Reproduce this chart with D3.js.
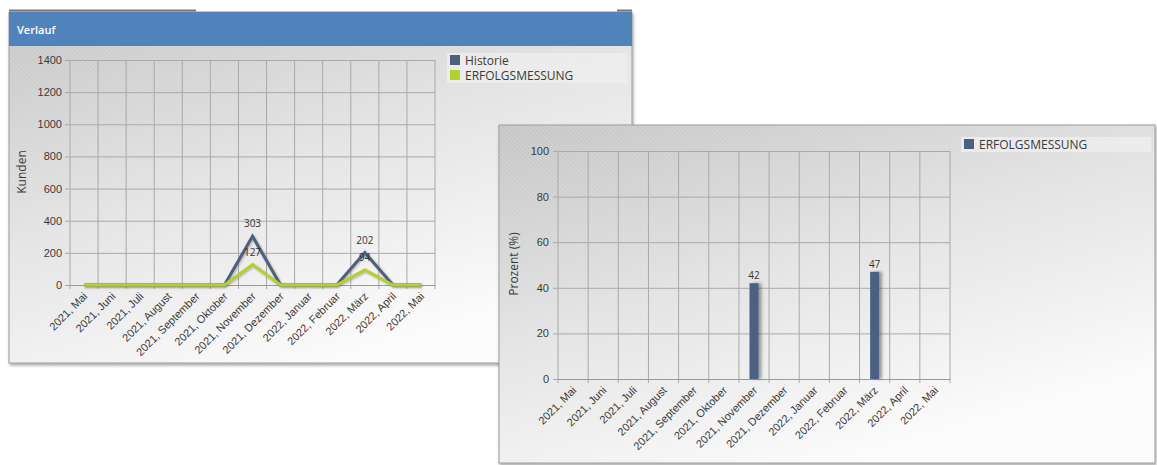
<!DOCTYPE html>
<html>
<head>
<meta charset="utf-8">
<script src="https://cdn.jsdelivr.net/npm/d3@7"></script>
<style>
  body { margin: 0; background: #fff; }
  svg { display: block; font-family: "Open Sans", sans-serif; }
</style>
</head>
<body>
<script>
// data
var months = ["2021, Mai", "2021, Juni", "2021, Juli", "2021, August", "2021, September",
	"2021, Oktober", "2021, November", "2021, Dezember", "2022, Januar", "2022, Februar",
	"2022, März", "2022, April", "2022, Mai"];
var historie = [0, 0, 0, 0, 0, 0, 303, 0, 0, 0, 202, 0, 0];
var erfolgKunden = [0, 0, 0, 0, 0, 0, 127, 0, 0, 0, 94, 0, 0];
var erfolgProzent = [0, 0, 0, 0, 0, 0, 42, 0, 0, 0, 47, 0, 0];
var kundenTicks = [0, 200, 400, 600, 800, 1000, 1200, 1400];
var prozentTicks = [0, 20, 40, 60, 80, 100];
var legendLeft = ["Historie", "ERFOLGSMESSUNG"];
var legendRight = ["ERFOLGSMESSUNG"];

var slate = "#4f5f7e",
	green = "#b3d12c",
	barColor = "#4b6083",
	gridColor = "#a9a9a9",
	textColor = "#3a3a3a";

var svg = d3.select("body").append("svg")
	.attr("width", 1157)
	.attr("height", 465);

var defs = svg.append("defs");

// background gradient + hatching
var bg = defs.append("linearGradient").attr("id", "bgGrad")
	.attr("x1", 0).attr("y1", 0).attr("x2", 0.55).attr("y2", 1);
bg.append("stop").attr("offset", "0%").attr("stop-color", "#c4c4c4");
bg.append("stop").attr("offset", "50%").attr("stop-color", "#e4e4e4");
bg.append("stop").attr("offset", "100%").attr("stop-color", "#fcfcfc");

var fade = defs.append("linearGradient").attr("id", "fadeGrad")
	.attr("x1", 0).attr("y1", 0).attr("x2", 0.55).attr("y2", 1);
fade.append("stop").attr("offset", "0%").attr("stop-color", "#fff").attr("stop-opacity", 1);
fade.append("stop").attr("offset", "70%").attr("stop-color", "#fff").attr("stop-opacity", 0.1);
fade.append("stop").attr("offset", "100%").attr("stop-color", "#fff").attr("stop-opacity", 0);

defs.append("mask").attr("id", "fadeMask")
	.attr("maskContentUnits", "objectBoundingBox")
	.append("rect").attr("width", 1).attr("height", 1).attr("fill", "url(#fadeGrad)");

var hatch = defs.append("pattern").attr("id", "hatch")
	.attr("width", 3).attr("height", 3)
	.attr("patternUnits", "userSpaceOnUse")
	.attr("patternTransform", "rotate(-45)");
hatch.append("line").attr("x1", 0).attr("y1", 0).attr("x2", 0).attr("y2", 3)
	.attr("stroke", "#fff").attr("stroke-width", 1).attr("stroke-opacity", 0.45);

var sh = defs.append("filter").attr("id", "panelShadow")
	.attr("x", "-5%").attr("y", "-5%").attr("width", "110%").attr("height", "115%");
sh.append("feDropShadow").attr("dx", 1).attr("dy", 2).attr("stdDeviation", 1.5)
	.attr("flood-color", "#000").attr("flood-opacity", 0.35);

var lineSh = defs.append("filter").attr("id", "lineShadow")
	.attr("x", "-10%").attr("y", "-30%").attr("width", "120%").attr("height", "160%");
lineSh.append("feDropShadow").attr("dx", 1).attr("dy", 1).attr("stdDeviation", 1)
	.attr("flood-color", "#666").attr("flood-opacity", 0.5);

var barSh = defs.append("filter").attr("id", "barShadow")
	.attr("x", "-50%").attr("y", "-10%").attr("width", "250%").attr("height", "120%");
barSh.append("feDropShadow").attr("dx", 3).attr("dy", 0).attr("stdDeviation", 1.5)
	.attr("flood-color", "#333").attr("flood-opacity", 0.45);

function panelBg(g, x, y, w, h) {
	g.append("rect").attr("x", x).attr("y", y).attr("width", w).attr("height", h)
		.attr("fill", "url(#bgGrad)").attr("stroke", "#9a9a9a")
		.attr("filter", "url(#panelShadow)");
	g.append("rect").attr("x", x).attr("y", y).attr("width", w).attr("height", h)
		.attr("fill", "url(#hatch)").attr("mask", "url(#fadeMask)");
}

function grid(g, x, y, ticks, labelX) {
	var left = x.range()[0], right = x.range()[1];
	var xs = months.map(function(m) { return x(m); }).concat([right]);

	var yAxis = d3.axisLeft(y).tickValues(ticks).tickFormat(d3.format("d"))
		.tickSize(right - left + 5).tickPadding(4);
	var ga = g.append("g").attr("transform", "translate(" + right + ",0)").call(yAxis);
	ga.select(".domain").remove();
	ga.selectAll(".tick line").attr("stroke", gridColor);
	ga.selectAll(".tick text").attr("fill", textColor).style("font-size", "11px")
		.attr("x", labelX - right);

	g.append("g").selectAll("line").data(xs).join("line")
		.attr("x1", function(d) { return d; }).attr("x2", function(d) { return d; })
		.attr("y1", y.range()[1]).attr("y2", y.range()[0] + 4)
		.attr("stroke", gridColor);

	var xAxis = d3.axisBottom(x).tickSize(0).tickPadding(0);
	var gx = g.append("g").attr("transform", "translate(0," + y.range()[0] + ")").call(xAxis);
	gx.select(".domain").attr("stroke", "#999");
	gx.selectAll(".tick text")
		.attr("fill", textColor).style("font-size", "11px")
		.attr("text-anchor", "end")
		.attr("y", 0).attr("dy", 0)
		.attr("transform", "translate(4,12) rotate(-45)");
}

function legend(g, x, y, w, items, colors) {
	g.append("rect").attr("x", x).attr("y", y).attr("width", w).attr("height", items.length * 15)
		.attr("fill", "#ededed").attr("fill-opacity", 0.85);
	var it = g.selectAll(".lg").data(items).join("g")
		.attr("transform", function(d, i) { return "translate(" + (x + 3) + "," + (y + 2 + i * 15) + ")"; });
	it.append("rect").attr("width", 10).attr("height", 10)
		.attr("fill", function(d, i) { return colors[i]; });
	it.append("text").attr("x", 15).attr("y", 10)
		.attr("fill", textColor).style("font-size", "12px").text(function(d) { return d; });
}

// ---------- left panel: Verlauf ----------
var left = svg.append("g");
panelBg(left, 9, 12, 623, 351);
left.append("rect").attr("x", 9).attr("y", 12).attr("width", 623).attr("height", 34).attr("fill", "#5183bb");
left.append("line").attr("x1", 9).attr("x2", 196).attr("y1", 10.5).attr("y2", 10.5)
	.attr("stroke", "#777").attr("stroke-width", 2);
left.append("line").attr("x1", 617).attr("x2", 632).attr("y1", 10.5).attr("y2", 10.5)
	.attr("stroke", "#777").attr("stroke-width", 2);
left.append("text").attr("x", 17).attr("y", 34)
	.attr("fill", "#fff").style("font-size", "11px").style("font-weight", 600)
	.text("Verlauf");

var xL = d3.scaleBand().domain(months).range([70, 435]).paddingInner(0).paddingOuter(0);
var yL = d3.scaleLinear().domain([0, 1400]).range([285, 60]);
grid(left, xL, yL, kundenTicks, 62);

left.append("text")
	.attr("transform", "translate(26,172) rotate(-90)")
	.attr("text-anchor", "middle").attr("fill", textColor).style("font-size", "12px")
	.text("Kunden");

var lineL = function(vals) {
	return d3.line()
		.x(function(d, i) { return xL(months[i]) + xL.bandwidth() / 2; })
		.y(function(d) { return yL(d); })(vals);
};
left.append("path").attr("d", lineL(historie)).attr("fill", "none")
	.attr("stroke", slate).attr("stroke-width", 3).attr("stroke-linejoin", "miter")
	.attr("filter", "url(#lineShadow)");
left.append("path").attr("d", lineL(erfolgKunden)).attr("fill", "none")
	.attr("stroke", green).attr("stroke-width", 3).attr("stroke-linejoin", "miter")
	.attr("filter", "url(#lineShadow)");

[historie, erfolgKunden].forEach(function(series) {
	left.append("g").selectAll("text").data(series.map(function(v, i) { return { v: v, m: months[i] }; })
		.filter(function(d) { return d.v > 0; }))
		.join("text")
		.attr("x", function(d) { return xL(d.m) + xL.bandwidth() / 2; })
		.attr("y", function(d) { return yL(d.v) - 9; })
		.attr("text-anchor", "middle").attr("fill", "#333").style("font-size", "10px")
		.text(function(d) { return d.v; });
});

legend(left, 447, 53, 181, legendLeft, [slate, green]);

// ---------- right panel: Prozent ----------
var right = svg.append("g");
panelBg(right, 499, 125, 656, 338);

var xR = d3.scaleBand().domain(months).range([558, 950]).paddingInner(0).paddingOuter(0);
var yR = d3.scaleLinear().domain([0, 100]).range([379, 151]);
grid(right, xR, yR, prozentTicks, 549);

right.append("text")
	.attr("transform", "translate(518,264) rotate(-90)")
	.attr("text-anchor", "middle").attr("fill", textColor).style("font-size", "12px")
	.text("Prozent (%)");

var barW = 9;
var barData = erfolgProzent.map(function(v, i) { return { v: v, m: months[i] }; });
right.append("g").selectAll("rect").data(barData).join("rect")
	.attr("x", function(d) { return xR(d.m) + xR.bandwidth() / 2 - barW / 2; })
	.attr("y", function(d) { return yR(d.v); })
	.attr("width", barW)
	.attr("height", function(d) { return yR(0) - yR(d.v); })
	.attr("fill", barColor)
	.attr("filter", "url(#barShadow)");
right.append("g").selectAll("text").data(barData.filter(function(d) { return d.v > 0; })).join("text")
	.attr("x", function(d) { return xR(d.m) + xR.bandwidth() / 2; })
	.attr("y", function(d) { return yR(d.v) - 4; })
	.attr("text-anchor", "middle").attr("fill", "#333").style("font-size", "10px")
	.text(function(d) { return d.v; });

legend(right, 961, 137, 190, legendRight, [barColor]);
</script>
</body>
</html>
